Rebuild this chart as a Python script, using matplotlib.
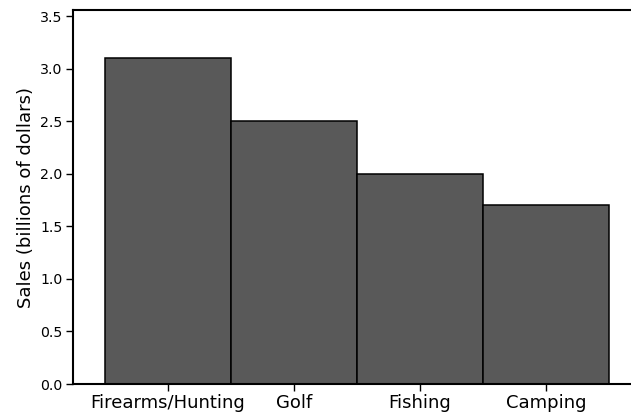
import matplotlib.pyplot as plt

categories = ['Firearms/Hunting', 'Golf', 'Fishing', 'Camping']
sales = [3.1, 2.5, 2.0, 1.7]
yticks = [0.0, 0.5, 1.0, 1.5, 2.0, 2.5, 3.0, 3.5]

plt.rcParams['font.family'] = ['DejaVu Sans']

fig = plt.figure(figsize=(6.31, 4.15), dpi=100)
# axes runs off the right edge, like the original
ax = fig.add_axes([73 / 631, 31 / 415, 587 / 631, 374 / 415])

x = range(len(categories))
ax.bar(x, sales, width=1.0, color='#595959', edgecolor='black', linewidth=1.1)

ax.set_xlim(-0.754, 3.905)
ax.set_ylim(0, 3.56)
ax.set_xticks(list(x))
ax.set_xticklabels(categories, fontsize=13)
ax.set_yticks(yticks)
ax.set_yticklabels(['%.1f' % v for v in yticks], fontsize=10.2)
ax.set_ylabel('Sales (billions of dollars)', fontsize=13, labelpad=4)

for s in ['left', 'bottom', 'top']:
    ax.spines[s].set_linewidth(1.5)
ax.spines['right'].set_visible(False)
ax.tick_params(axis='both', direction='out', length=5, width=1, colors='black')
ax.tick_params(axis='x', pad=2.5)
ax.tick_params(axis='y', pad=2.5)

fig.savefig('out.png', dpi=100)
